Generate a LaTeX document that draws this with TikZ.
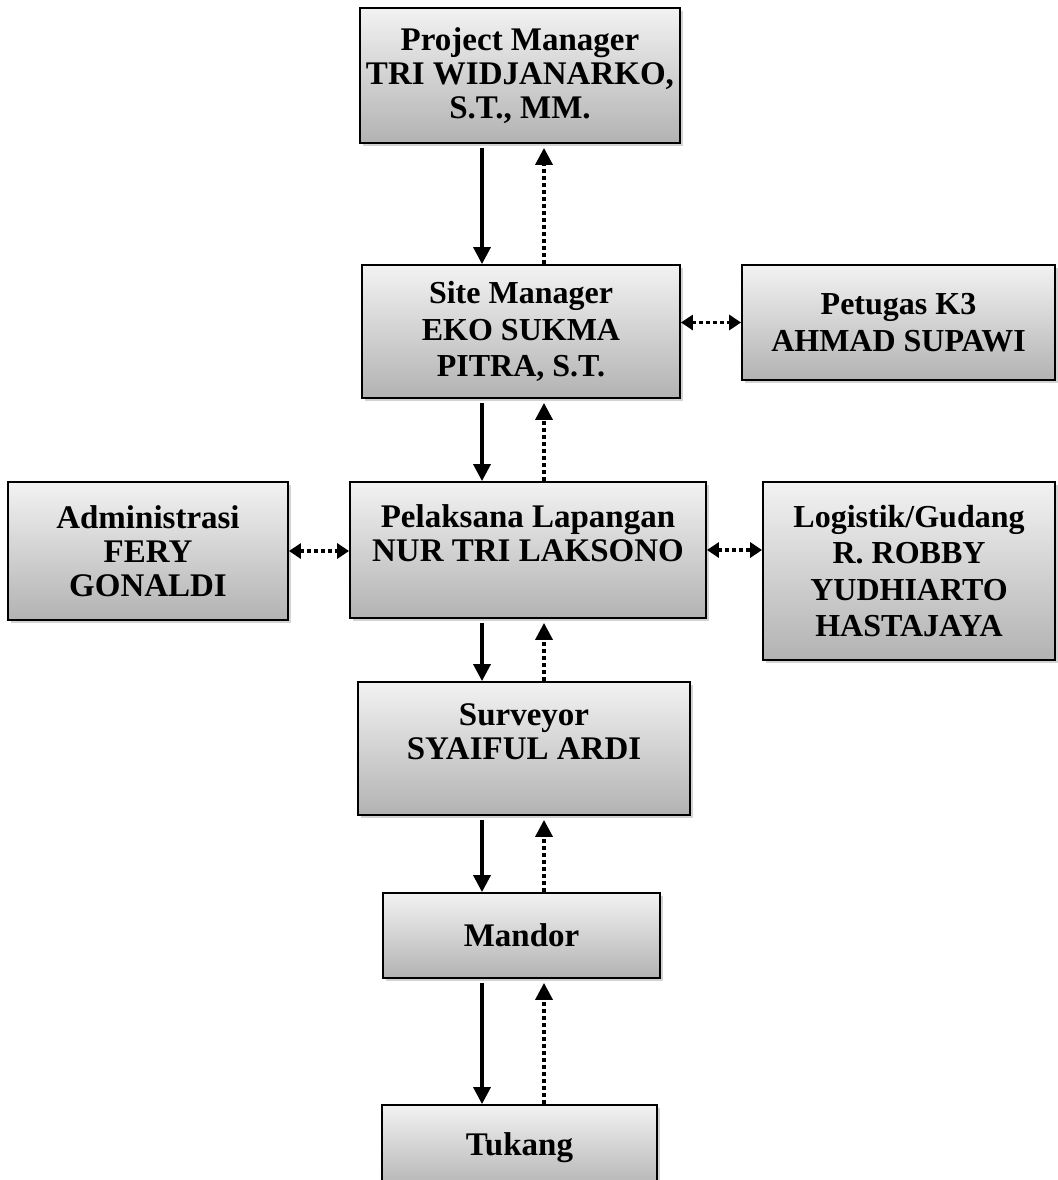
\documentclass[tikz,border=0pt]{standalone}
\usepackage{fontspec}
\setmainfont{Liberation Serif}
\usetikzlibrary{arrows.meta,shadows}

\begin{document}
\begin{tikzpicture}[x=1pt,y=-1pt,
    box/.style={draw,line width=1.8pt,top color=gray!10,bottom color=gray!60,
        drop shadow={shadow xshift=3pt,shadow yshift=-3pt,opacity=.35},
        inner sep=0pt,align=center,font=\fontsize{33}{34}\selectfont\bfseries},
    loose/.style={font=\fontsize{32}{36.5}\selectfont\bfseries},
    down/.style={line width=3.4pt,shorten <=4pt,-{Triangle[length=17pt,width=17pt]}},
    up/.style={line width=3.4pt,dash pattern=on 4pt off 3pt,shorten >=4pt,-{Triangle[length=17pt,width=17pt]}},
    both/.style={line width=3.4pt,dash pattern=on 4pt off 3pt,{Triangle[length=12pt,width=15pt]}-{Triangle[length=12pt,width=15pt]}}]
\useasboundingbox (0,0) rectangle (1057,1180);

\node[box,minimum width=320pt,minimum height=135pt] (pm) at (520,75.5)
    {Project Manager\\TRI WIDJANARKO,\\S.T., MM.};
\node[box,loose,minimum width=318pt,minimum height=133pt] (sm) at (521,331.5)
    {Site Manager\\EKO SUKMA\\PITRA, S.T.};
\node[box,loose,minimum width=313pt,minimum height=115pt] (k3) at (898.5,322.5)
    {Petugas K3\\AHMAD SUPAWI};
\node[box,minimum width=280pt,minimum height=138pt] (ad) at (148,551)
    {Administrasi\\FERY\\GONALDI};
\node[box,minimum width=356pt,minimum height=136pt] (pl) at (528,550)
    {Pelaksana Lapangan\\NUR TRI LAKSONO\\~};
\node[box,loose,minimum width=292pt,minimum height=178pt] (lg) at (909,571)
    {Logistik/Gudang\\R. ROBBY\\YUDHIARTO\\HASTAJAYA};
\node[box,minimum width=332pt,minimum height=133pt] (sv) at (524,748.5)
    {Surveyor\\SYAIFUL ARDI\\~};
\node[box,minimum width=277pt,minimum height=85pt] (md) at (521.5,935.5)
    {Mandor};
\node[box,minimum width=275pt,minimum height=85pt] (tk) at (519.5,1147.5)
    {Tukang};

% lines of command and report
\coordinate (L) at (482,0);
\coordinate (R) at (544,0);
\foreach \a/\b in {pm/sm,sm/pl,pl/sv,sv/md,md/tk}{
    \draw[down] (\a.south -| L) -- (\b.north -| L);
    \draw[up] (\b.north -| R) -- (\a.south -| R);
}

% staff
\draw[both] (k3.west -| sm.east) -- (k3.west);
\draw[both] (ad.east) -- (ad.east -| pl.west);
\draw[both] (pl.east) -- (pl.east -| lg.west);
\end{tikzpicture}
\end{document}
